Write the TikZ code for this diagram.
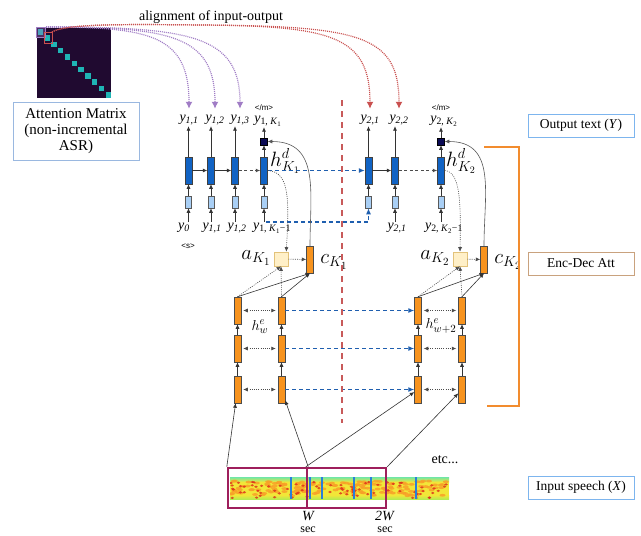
\documentclass[tikz,border=0pt]{standalone}
\usepackage{fontspec}
\setmainfont{Liberation Serif}
\setsansfont{Liberation Sans}
\usetikzlibrary{arrows.meta}

\definecolor{decblue}{HTML}{1163C4}
\definecolor{embblue}{HTML}{A9CFF5}
\definecolor{navyout}{HTML}{0B0B55}
\definecolor{encorange}{HTML}{F7931E}
\definecolor{attfill}{HTML}{FFF0C8}
\definecolor{attline}{HTML}{E2C27A}
\definecolor{alignpurple}{HTML}{A07CC5}
\definecolor{alignred}{HTML}{C9504F}
\definecolor{linkblue}{HTML}{1F5FAF}
\definecolor{splitred}{HTML}{C85A5A}
\definecolor{bracketorange}{HTML}{F28C2E}
\definecolor{winmaroon}{HTML}{9E1F5C}
\definecolor{matdark}{HTML}{200A30}
\definecolor{matcyan}{HTML}{1FB5B5}
\definecolor{infoblue}{HTML}{7DB5EE}
\definecolor{infotan}{HTML}{C9A27E}
\definecolor{matbox}{HTML}{9AB8E0}
\definecolor{specgreen}{HTML}{6FE6A8}
\definecolor{specyellow}{HTML}{F2E638}
\definecolor{specyg}{HTML}{B8EA50}
\definecolor{specred}{HTML}{DC2A18}
\definecolor{specorange}{HTML}{F8A028}
\definecolor{specblue}{HTML}{2A7FD8}

\newcommand{\ysym}[1]{\textit{y}\textsubscript{\textit{#1}}}
\newcommand{\ykay}[2]{\textit{y}\textsubscript{#1, \textit{K}\textsubscript{#2}}}

\tikzset{
  >={Latex[length=4.5pt,width=4pt]},
  decbox/.style={draw=black!75, fill=decblue, minimum width=7pt, minimum height=27pt, inner sep=0pt, line width=0.5pt},
  embbox/.style={draw=black!65, fill=embblue, minimum width=6pt, minimum height=12pt, inner sep=0pt, line width=0.5pt},
  outbox/.style={draw=black, fill=navyout, minimum size=7pt, inner sep=0pt, line width=0.5pt},
  encbox/.style={draw=black!70, fill=encorange, minimum width=7pt, minimum height=27pt, inner sep=0pt, line width=0.5pt},
  attbox/.style={draw=attline, fill=attfill, minimum size=14pt, inner sep=0pt, line width=0.6pt},
  ylabel/.style={inner sep=1pt, font=\fontsize{14}{14}\selectfont},
  tag/.style={inner sep=0pt, font=\sffamily\fontsize{8}{8}\selectfont},
  biglabel/.style={inner sep=0pt, font=\fontsize{22}{22}\selectfont},
  infobox/.style={draw=infoblue, line width=0.8pt, minimum width=106pt, minimum height=23pt, inner sep=0pt, font=\fontsize{13.5}{13.5}\selectfont},
  arr/.style={->, black!80, line width=0.6pt},
  dotarr/.style={->, black!70, line width=0.6pt, dash pattern=on 1pt off 1.2pt},
  grayarr/.style={->, black!70, line width=0.9pt, dash pattern=on 3pt off 2.5pt},
  bluearr/.style={->, linkblue, line width=1.1pt, dash pattern=on 4pt off 3pt, >={Latex[length=6pt,width=5pt]}},
  purplearr/.style={->, alignpurple, line width=1.2pt, dash pattern=on 1pt off 1pt, shorten >=5pt, >={Latex[length=7pt,width=7pt]}},
  redarr/.style={->, alignred, line width=1.2pt, dash pattern=on 1pt off 1pt, shorten >=5pt, >={Latex[length=7pt,width=7pt]}},
  window/.style={draw=winmaroon, line width=2.4pt, minimum width=79pt, minimum height=40pt, inner sep=0pt},
}

\begin{document}
\begin{tikzpicture}[x=1pt,y=-1pt]
  \useasboundingbox (0,0) rectangle (641,536);

  % アテンション行列
  \fill[matdark] (37,28) rectangle (111,98);
  \foreach \i in {0,1,...,10} {
    \fill[matcyan] (37.5+\i*6.8,29+\i*6.3) rectangle ++(5.5,5.5);
  }
  \draw[alignpurple, fill=alignpurple, fill opacity=0.35, line width=0.8pt] (36,27) rectangle (45,37);
  \draw[alignred, line width=0.8pt] (44,32) rectangle (52,43);
  \node[draw=matbox, line width=1pt, minimum width=126pt, minimum height=58pt, align=center,
        font=\fontsize{15}{16}\selectfont] (matcap) at (76,131) {Attention Matrix\\(non-incremental\\ASR)};
  \node[font=\fontsize{14}{14}\selectfont] (aligntxt) at (211,17) {alignment of input-output};

  % デコーダ (1)
  \foreach \col/\x in {1/188.5,2/211,3/235,4/264} {
    \node[decbox] (dA\col) at (\x,170.5) {};
    \node[embbox] (eA\col) at (\x,202) {};
    \draw[arr] (eA\col) -- (dA\col);
  }
  \node[outbox] (oA4sq) at (264,141.5) {};
  \node[ylabel] (oA1) at (189,120) {\ysym{1,1}};
  \node[ylabel] (oA2) at (215,120) {\ysym{1,2}};
  \node[ylabel] (oA3) at (240,120) {\ysym{1,3}};
  \node[ylabel] (oA4) at (268,121) {\ykay{1}{1}};
  \node[tag] (endA) at (264,108) {</m>};
  \node[ylabel] (iA1) at (184,228) {\ysym{0}};
  \node[ylabel] (iA2) at (212,228) {\ysym{1,1}};
  \node[ylabel] (iA3) at (237,228) {\ysym{1,2}};
  \node[ylabel] (iA4) at (272,228) {\textit{y}\textsubscript{1, \textit{K}\textsubscript{1}−1}};
  \node[tag] (startA) at (188,246) {<s>};
  \foreach \col in {1,2,3} {
    \draw[arr] (dA\col) -- (dA\col |- oA\col.south);
  }
  \foreach \col in {1,2,3,4} {
    \draw[arr] (eA\col |- iA\col.north) -- (eA\col);
  }
  \draw[arr] (dA4) -- (oA4sq);
  \draw[arr] (oA4sq) -- (oA4sq |- oA4.south);
  \draw[arr] (dA1) -- (dA2);
  \draw[arr] (dA2) -- (dA3);
  \draw[grayarr] (dA3) -- (dA4);
  \node[anchor=west, inner sep=0pt, font=\fontsize{20}{20}\selectfont] (hdA) at (270,161) {$h^{d}_{K_1}$};

  % デコーダ (2)
  \foreach \col/\x in {1/368.5,2/395,3/441} {
    \node[decbox] (dB\col) at (\x,170.5) {};
    \node[embbox] (eB\col) at (\x,202) {};
    \draw[arr] (eB\col) -- (dB\col);
  }
  \node[outbox] (oB3sq) at (441,141.5) {};
  \node[ylabel] (oB1) at (370,120) {\ysym{2,1}};
  \node[ylabel] (oB2) at (399,120) {\ysym{2,2}};
  \node[ylabel] (oB3) at (444,121) {\ykay{2}{2}};
  \node[tag] (endB) at (441,108) {</m>};
  \node[ylabel] (iB2) at (397,228) {\ysym{2,1}};
  \node[ylabel] (iB3) at (444,228) {\textit{y}\textsubscript{2, \textit{K}\textsubscript{2}−1}};
  \draw[arr] (dB1) -- (dB1 |- oB1.south);
  \draw[arr] (dB2) -- (dB2 |- oB2.south);
  \draw[arr] (dB3) -- (oB3sq);
  \draw[arr] (oB3sq) -- (oB3sq |- oB3.south);
  \draw[arr] (eB2 |- iB2.north) -- (eB2);
  \draw[arr] (eB3 |- iB3.north) -- (eB3);
  \draw[arr] (dB1) -- (dB2);
  \draw[grayarr] (dB2) -- (dB3);
  \node[anchor=west, inner sep=0pt, font=\fontsize{20}{20}\selectfont] (hdB) at (446,161) {$h^{d}_{K_2}$};

  % 状態の引き継ぎ
  \draw[bluearr] (dA4) -- (dB1);
  \coordinate (loopA) at (266,222);
  \draw[bluearr] (loopA) -| (eB1);

  % アテンション
  \node[attbox] (att1) at (281,259) {};
  \node[encbox] (ctx1) at (310,259.5) {};
  \node[attbox] (att2) at (460,259) {};
  \node[encbox] (ctx2) at (484,259.5) {};
  \node[biglabel] (aLabA) at (256,258) {$a_{K_1}$};
  \node[biglabel] (cLabA) at (334,262) {$c_{K_1}$};
  \node[biglabel] (aLabB) at (435,258) {$a_{K_2}$};
  \node[biglabel] (cLabB) at (508,262) {$c_{K_2}$};
  \draw[dotarr] (att1) -- (ctx1);
  \draw[dotarr] (att2) -- (ctx2);
  \draw[dotarr] (dA4.east) .. controls (290,172) and (289,200) .. ([xshift=-2pt]att1.north east);
  \draw[dotarr] (dB3.east) .. controls (460,172) and (461,200) .. (att2.north);
  \draw[arr, black!65] (ctx1.north) to[out=90, in=0, looseness=1.2] (oA4sq.east);
  \draw[arr, black!65] (ctx2.north) to[out=90, in=0, looseness=1.2] (oB3sq.east);

  % エンコーダ
  \foreach \r/\y in {1/310.5,2/348.5,3/389.5} {
    \node[encbox] (ea\r) at (237.5,\y) {};
    \node[encbox] (eb\r) at (281.5,\y) {};
    \node[encbox] (ec\r) at (418,\y) {};
    \node[encbox] (ed\r) at (462,\y) {};
    \draw[dotarr, <->, shorten <=2pt, shorten >=2pt] (ea\r) -- (eb\r);
    \draw[dotarr, <->, shorten <=2pt, shorten >=2pt] (ec\r) -- (ed\r);
    \draw[bluearr] (eb\r) -- (ec\r);
  }
  \foreach \col in {ea,eb,ec,ed} {
    \draw[arr] (\col3) -- (\col2);
    \draw[arr] (\col2) -- (\col1);
  }
  \node[inner sep=0pt, font=\fontsize{15}{15}\selectfont] (heA) at (260,327) {$h^{e}_{w}$};
  \node[inner sep=0pt, font=\fontsize{15}{15}\selectfont] (heB) at (441,326) {$h^{e}_{w+2}$};
  \draw[dotarr] (ea1.north) -- (att1.south);
  \draw[dotarr] (eb1.north) -- (att1.south);
  \draw[arr] (ea1.north) -- (ctx1.south);
  \draw[arr] (eb1.north) -- (ctx1.south);
  \draw[dotarr] (ec1.north) -- (att2.south);
  \draw[dotarr] (ed1.north) -- (att2.south);
  \draw[arr] (ec1.north) -- (ctx2.south);
  \draw[arr] (ed1.north) -- (ctx2.south);

  % 区切り
  \draw[splitred, line width=1.4pt, dash pattern=on 6pt off 5pt] (342,100) -- (342,423);
  \draw[bracketorange, line width=1.3pt] (484,147) -| (519,406) -- (487,406);

  % 入力音声
  \begin{scope}
    \clip (230,477) rectangle (449,499);
    \fill[specyellow] (230,477) rectangle (449,499);
    \shade[top color=specgreen, bottom color=specyellow] (230,477) rectangle (449,482);
    \shade[top color=specyellow, bottom color=specyg] (230,495) rectangle (449,499);
    \pgfmathsetseed{11}
    \foreach \i in {1,...,150} {
      \pgfmathsetmacro{\bx}{231+217*rnd}
      \pgfmathsetmacro{\by}{481+15*rnd}
      \fill[specorange, opacity=0.85] (\bx,\by) ellipse (3pt and 1.4pt);
    }
    \foreach \i in {1,...,80} {
      \pgfmathsetmacro{\bx}{231+217*rnd}
      \pgfmathsetmacro{\by}{482+16*rnd}
      \fill[specred, opacity=0.8] (\bx,\by) ellipse (1.8pt and 1.2pt);
    }
    \foreach \x in {291,310,322,354,371,416} {
      \draw[specblue, line width=1.2pt] (\x,477) -- (\x,499);
    }
  \end{scope}
  \node[window] (win1) at (267.5,488) {};
  \node[window] (win2) at (346.5,488) {};
  \draw[arr] (win1.north west) -- (ea3);
  \draw[arr] (win1.north east) -- (eb3);
  \draw[arr] (win2.north west) -- (ec3);
  \draw[arr] (win2.north east) -- (ed3);
  \node[font=\fontsize{14}{14}\selectfont] (etc) at (445,460) {etc...};
  \node[font=\fontsize{14}{14}\selectfont\itshape] (wA) at (308,516) {W};
  \node[font=\fontsize{14}{14}\selectfont] (wB) at (385,516) {\textit{2W}};
  \node[font=\fontsize{12}{12}\selectfont] (secA) at (308,530) {sec};
  \node[font=\fontsize{12}{12}\selectfont] (secB) at (385,530) {sec};

  % ラベル
  \node[infobox] (outT) at (581,125.5) {Output text (\textit{Y})};
  \node[infobox, draw=infotan] (encT) at (581,263.5) {Enc-Dec Att};
  \node[infobox] (inT) at (581,487.5) {Input speech (\textit{X})};

  % アラインメント
  \coordinate (pstart) at (46,27);
  \coordinate (rstart) at (52,32);
  \draw[purplearr] (pstart) .. controls (150,27) and (189,35) .. (oA1.north);
  \draw[purplearr] (pstart) .. controls (170,27) and (215,35) .. (oA2.north);
  \draw[purplearr] (pstart) .. controls (190,27) and (240,35) .. (oA3.north);
  \draw[redarr] (rstart) .. controls (65,24) and (120,24) .. (200,25) .. controls (330,26) and (370,35) .. (oB1.north);
  \draw[redarr] (rstart) .. controls (65,24) and (120,24) .. (200,25) .. controls (360,26) and (399,35) .. (oB2.north);
\end{tikzpicture}
\end{document}
